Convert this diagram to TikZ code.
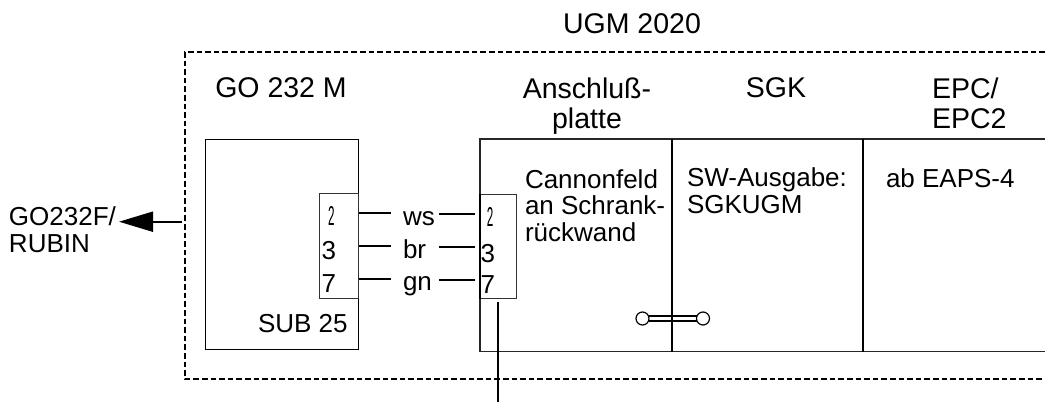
\documentclass[tikz,border=0pt]{standalone}
\usepackage{fontspec}
\setmainfont{Liberation Sans}
\usetikzlibrary{arrows.meta}
\tikzset{
 lbl/.style={inner sep=0pt,outer sep=0pt,text=black},
 big/.style={lbl,font=\fontsize{28.5}{30}\selectfont},
 small/.style={lbl,font=\fontsize{26}{26.5}\selectfont},
 wire/.style={line width=1.6pt,draw=black},
 panel/.style={line width=1.1pt,draw=black!85!white},
 divider/.style={line width=1.4pt,draw=black},
 conn/.style={line width=1.1pt,draw=black!80!white},
 term/.style={circle,draw=black,line width=1.2pt,fill=white,minimum size=13pt,inner sep=0pt,outer sep=0pt},
}
\newcommand{\thintwo}{\scalebox{0.45}[1.05]{2}}
\begin{document}
\begin{tikzpicture}[x=1pt,y=-1pt]
\useasboundingbox (0,0) rectangle (1045,402);
% outer dashed frame
\coordinate (fa) at (1045,52);
\coordinate (fb) at (185,52);
\coordinate (fc) at (185,379);
\coordinate (fd) at (1045,379);
\draw[line width=1.5pt,dash pattern=on 5.6pt off 3pt] (fa) -- (fb) -- (fc) -- (fd);
% titles
\node[big,anchor=base] (ugm) at (632,33) {UGM 2020};
\node[big,anchor=base] (go) at (281,97) {GO 232 M};
\node[big,anchor=base,align=center] (ans) at (587,128) {Anschluß-\\platte};
\node[big,anchor=base] (sgk) at (776,97) {SGK};
\node[big,anchor=base west,align=left] (epc) at (932,128) {EPC/\\EPC2};
% GO box
\node[draw=black,line width=1.1pt,minimum width=153pt,minimum height=210pt,inner sep=0pt,anchor=north west] (gobox) at (205,139) {};
\node[small,anchor=base west] (sub) at (258,332) {SUB 25};
% right panel
\coordinate (pa) at (1045,139);
\coordinate (pb) at (480,139);
\coordinate (pc) at (480,351.5);
\coordinate (pd) at (1045,351.5);
\draw[panel] (pa) -- (pb) -- (pc) -- (pd);
\coordinate (v1t) at (672,139);
\coordinate (v1b) at (672,351.5);
\coordinate (v2t) at (863,139);
\coordinate (v2b) at (863,351.5);
\draw[divider] (v1t) -- (v1b);
\draw[divider] (v2t) -- (v2b);
% connector left
\node[conn,draw,minimum width=39.5pt,minimum height=105pt,inner sep=0pt,anchor=north west,fill=white] (cl) at (318.5,192.5) {};
\node[small,anchor=base] (l2) at (331.5,225) {\thintwo};
\node[small,anchor=base west] (l3) at (321.5,259) {3};
\node[small,anchor=base west] (l7) at (321.5,292) {7};
% connector right
\node[conn,draw,minimum width=36pt,minimum height=104pt,inner sep=0pt,anchor=north west,fill=white] (cr) at (480,194) {};
\node[small,anchor=base] (r2) at (490,226) {\thintwo};
\node[small,anchor=base west] (r3) at (480.5,262) {3};
\node[small,anchor=base west] (r7) at (480.5,293) {7};
\draw[divider] (cr.north west) -- (cr.south west);
% wires
\node[small,anchor=base west] (ws) at (403,225) {ws};
\node[small,anchor=base west] (br) at (403,258) {br};
\node[small,anchor=base west] (gn) at (403,290) {gn};
\coordinate (w1a) at (359,213); \coordinate (w1b) at (391,213);
\coordinate (w2a) at (359,246); \coordinate (w2b) at (391,246);
\coordinate (w3a) at (359,279); \coordinate (w3b) at (391,279);
\coordinate (x1a) at (439,214); \coordinate (x1b) at (475,214);
\coordinate (x2a) at (439,247); \coordinate (x2b) at (475,247);
\coordinate (x3a) at (439,280); \coordinate (x3b) at (475,280);
\draw[wire] (w1a) -- (w1b);
\draw[wire] (w2a) -- (w2b);
\draw[wire] (w3a) -- (w3b);
\draw[wire] (x1a) -- (x1b);
\draw[wire] (x2a) -- (x2b);
\draw[wire] (x3a) -- (x3b);
% panel texts
\node[small,anchor=base west,align=left] (can) at (525,241) {Cannonfeld\\an Schrank-\\rückwand};
\node[small,anchor=base west,align=left] (sw) at (687,213) {SW-Ausgabe:\\SGKUGM};
\node[small,anchor=base west] (ab) at (886,187) {ab EAPS-4};
% link
\node[term] (ta) at (642.5,318.5) {};
\node[term] (tb) at (703,318.5) {};
\draw[line width=1.5pt] ([yshift=-2.3pt]ta.center) ++(6pt,0) -- ([yshift=-2.3pt,xshift=-6pt]tb.center);
\draw[line width=1.5pt] ([yshift=2.3pt]ta.center) ++(6pt,0) -- ([yshift=2.3pt,xshift=-6pt]tb.center);
% bottom stub
\coordinate (stub) at (498,402);
\draw[wire] (cr.south -| stub) ++(0,3) -- (stub);
% left arrow
\node[small,anchor=base west,align=left] (rub) at (9,252) {GO232F/\\RUBIN};
\coordinate (as) at (182,221.7);
\coordinate (at) at (119,221.7);
\draw[line width=2pt,-{Triangle[length=34pt,width=20pt]}] (as) -- (at);
\end{tikzpicture}
\end{document}
